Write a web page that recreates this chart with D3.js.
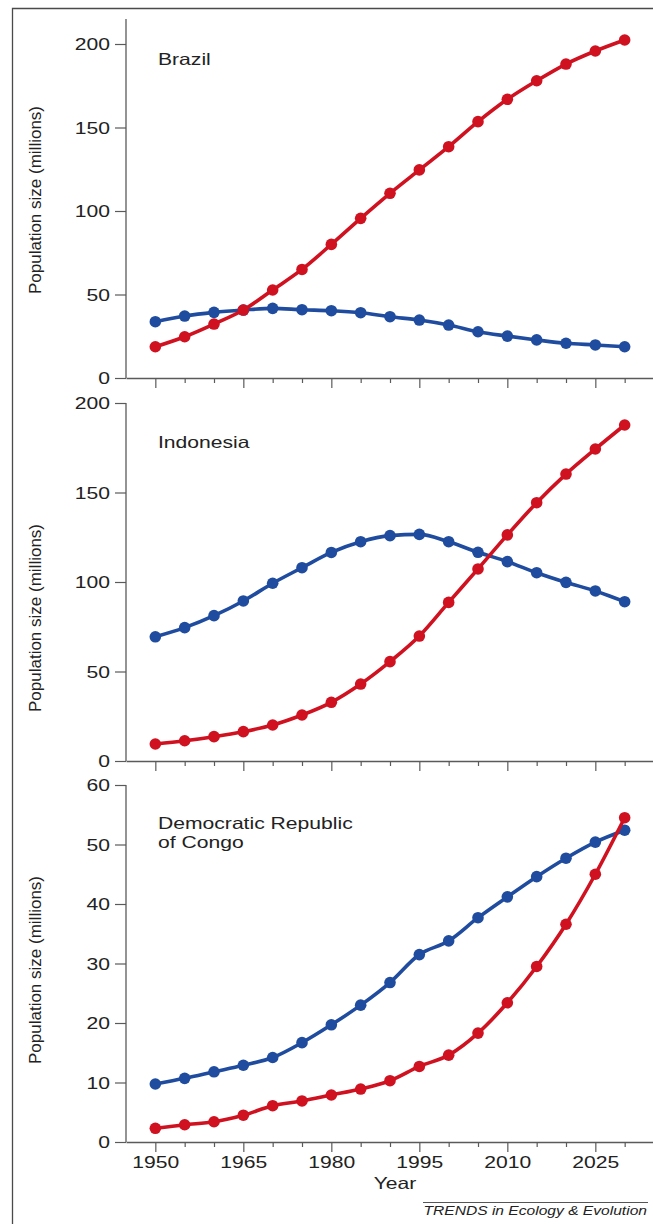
<!DOCTYPE html>
<html>
<head>
<meta charset="utf-8">
<script src="https://cdn.jsdelivr.net/npm/d3@7/dist/d3.min.js"></script>
<style>
  html, body { margin: 0; padding: 0; background: #fff; }
  svg { display: block; }
</style>
</head>
<body>
<svg id="chart" width="653" height="1224"></svg>
<script>
// ---- Data ----
const years = [1950, 1955, 1960, 1965, 1970, 1975, 1980, 1985, 1990, 1995, 2000, 2005, 2010, 2015, 2020, 2025, 2030];
const xTickValues = [1950, 1955, 1960, 1965, 1970, 1975, 1980, 1985, 1990, 1995, 2000, 2005, 2010, 2015, 2020, 2025, 2030, 2035];
const xTickLabels = [1950, 1965, 1980, 1995, 2010, 2025];

const brazilRed  = [18.7, 24.7, 32.3, 40.7, 52.7, 65.0, 80.0, 95.6, 110.6, 124.6, 138.5, 153.5, 166.9, 178.0, 188.0, 195.8, 202.4];
const brazilBlue = [33.7, 37.1, 39.3, 40.7, 41.7, 40.9, 40.3, 39.1, 36.7, 34.7, 31.7, 27.7, 25.1, 22.8, 20.8, 19.8, 18.7];

const indoRed  = [9.5, 11.3, 13.6, 16.4, 20.1, 25.7, 32.8, 43.0, 55.5, 69.8, 88.6, 107.3, 126.3, 144.3, 160.3, 174.3, 187.7];
const indoBlue = [69.4, 74.5, 81.2, 89.4, 99.3, 108.0, 116.5, 122.5, 125.9, 126.6, 122.5, 116.6, 111.4, 105.2, 99.8, 95.0, 89.0];

const drcRed  = [2.3, 2.9, 3.4, 4.5, 6.1, 6.9, 7.9, 8.9, 10.3, 12.7, 14.6, 18.3, 23.4, 29.5, 36.6, 45.0, 54.5];
const drcBlue = [9.75, 10.7, 11.8, 12.9, 14.2, 16.7, 19.7, 23.0, 26.8, 31.5, 33.8, 37.7, 41.2, 44.6, 47.7, 50.4, 52.4];

const panelNames = [["Brazil"], ["Indonesia"], ["Democratic Republic", "of Congo"]];
const yMaxes = [200, 200, 60];
const yTicks = [[0, 50, 100, 150, 200], [0, 50, 100, 150, 200], [0, 10, 20, 30, 40, 50, 60]];
const yAxisTitle = "Population size (millions)";
const xAxisTitle = "Year";
const footer = "TRENDS in Ecology & Evolution";

// ---- Layout ----
const RED = "#cf1120", BLUE = "#1f4c9e", AXIS = "#5a5a5a", TEXT = "#222";
const SX = 1.28;
const FONT = "'Liberation Sans', Arial, Helvetica, sans-serif";

const svg = d3.select("#chart");

// outer frame
svg.append("path")
  .attr("d", "M12.5,1224 V8.5 H653")
  .attr("fill", "none").attr("stroke", "#4a4a4a").attr("stroke-width", 1.3);

const x = d3.scaleLinear().domain([1945, 2035]).range([126, 654]);

const panels = [
  { red: brazilRed, blue: brazilBlue, y0: 378, y1: 44, axisTop: 19, labelY: 65, titleCY: 200 },
  { red: indoRed, blue: indoBlue, y0: 761, y1: 403, axisTop: 403, labelY: 448, titleCY: 618 },
  { red: drcRed, blue: drcBlue, y0: 1142, y1: 785, axisTop: 785, labelY: 829, titleCY: 970 }
];

panels.forEach((p, i) => {
  const y = d3.scaleLinear().domain([0, yMaxes[i]]).range([p.y0, p.y1]);
  const g = svg.append("g");

  // y axis
  const ya = g.append("g").attr("transform", "translate(126,0)")
    .call(d3.axisLeft(y).tickValues(yTicks[i]).tickSize(11).tickFormat(d3.format("d")));
  ya.select(".domain").remove();
  ya.selectAll(".tick line").attr("stroke", AXIS).attr("stroke-width", 1.2);
  ya.selectAll(".tick text")
    .attr("x", 0).attr("dy", "0.34em")
    .attr("transform", `translate(-16,0) scale(${SX},1)`)
    .attr("font-family", FONT).attr("font-size", 16.5).attr("fill", TEXT);
  g.append("line")
    .attr("x1", 126).attr("x2", 126).attr("y1", p.axisTop).attr("y2", p.y0)
    .attr("stroke", AXIS).attr("stroke-width", 1.3);

  // x axis
  const xa = g.append("g").attr("transform", `translate(0,${p.y0})`)
    .call(d3.axisBottom(x).tickValues(xTickValues).tickSizeOuter(0).tickSizeInner(5)
      .tickFormat(d => (i === 2 && xTickLabels.includes(d)) ? String(d) : ""));
  xa.select(".domain").attr("stroke", AXIS).attr("stroke-width", 1.3);
  xa.selectAll(".tick line").attr("stroke", AXIS).attr("stroke-width", 1.2)
    .attr("y2", d => xTickLabels.includes(d) ? 10 : 5);
  xa.selectAll(".tick text")
    .attr("y", 0).attr("dy", 0)
    .attr("transform", `translate(0,26) scale(${SX},1)`)
    .attr("font-family", FONT).attr("font-size", 16.5).attr("fill", TEXT);

  // y title
  g.append("text")
    .attr("transform", `translate(41,${p.titleCY}) rotate(-90)`)
    .attr("text-anchor", "middle")
    .attr("font-family", FONT).attr("font-size", 17).attr("fill", TEXT)
    .text(yAxisTitle);

  // panel label
  panelNames[i].forEach((t, k) => {
    g.append("text")
      .attr("transform", `translate(158,${p.labelY + k * 19}) scale(${SX},1)`)
      .attr("font-family", FONT).attr("font-size", 16.5).attr("fill", TEXT)
      .text(t);
  });

  // series
  const line = d3.line().x((d, j) => x(years[j])).y(d => y(d)).curve(d3.curveMonotoneX);
  [[p.blue, BLUE], [p.red, RED]].forEach(([vals, col]) => {
    g.append("path").datum(vals)
      .attr("d", line).attr("fill", "none").attr("stroke", col).attr("stroke-width", 3.6);
    g.selectAll(null).data(vals).enter().append("circle")
      .attr("cx", (d, j) => x(years[j])).attr("cy", d => y(d))
      .attr("r", 5.8).attr("fill", col);
  });
});

// x title
svg.append("text")
  .attr("transform", `translate(395,1189) scale(${SX},1)`)
  .attr("text-anchor", "middle")
  .attr("font-family", FONT).attr("font-size", 16.5).attr("fill", TEXT)
  .text(xAxisTitle);

// footer
svg.append("line").attr("x1", 423).attr("x2", 648).attr("y1", 1202.5).attr("y2", 1202.5)
  .attr("stroke", "#555").attr("stroke-width", 1);
svg.append("text")
  .attr("transform", `translate(647,1215) scale(1.3,1)`)
  .attr("text-anchor", "end")
  .attr("font-family", FONT).attr("font-style", "italic").attr("font-size", 12).attr("fill", TEXT)
  .text(footer);
</script>
</body>
</html>
